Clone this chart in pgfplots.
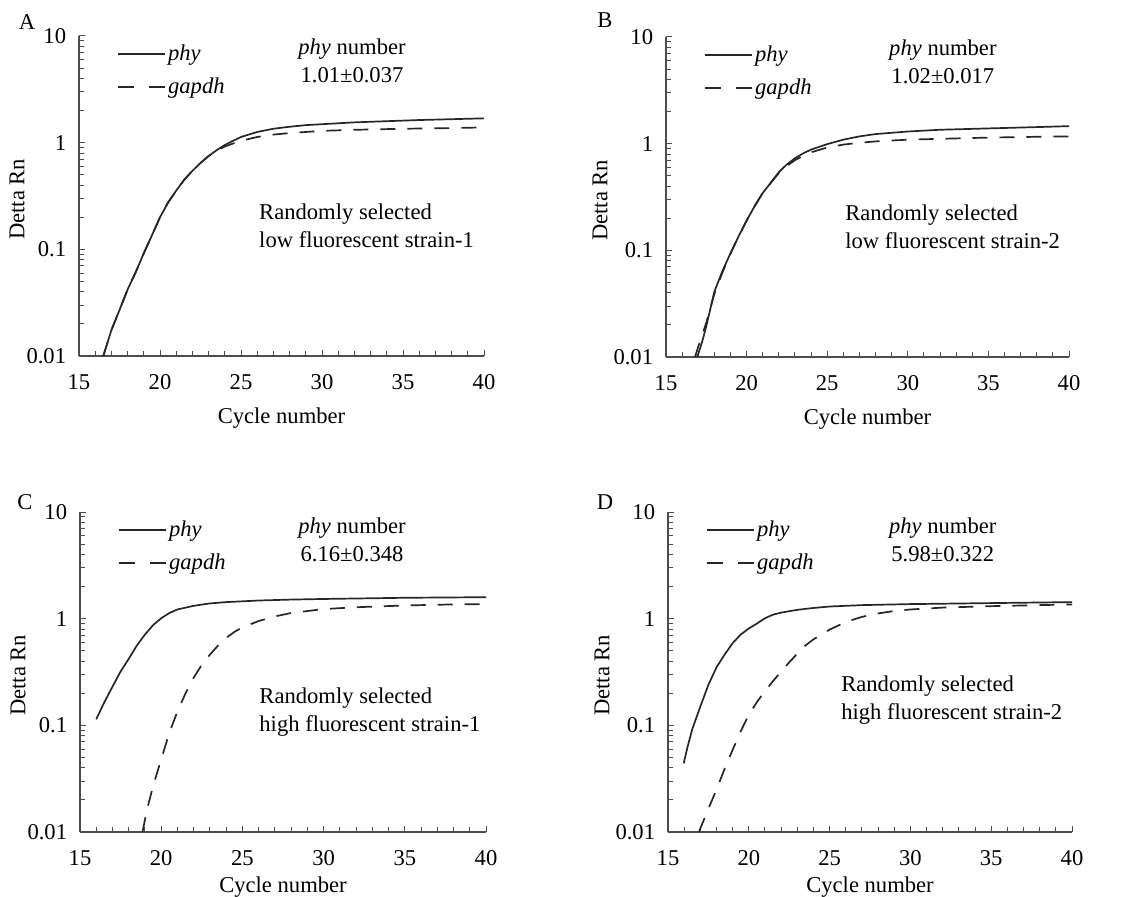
\documentclass[border=0pt]{standalone}
\usepackage{fontspec}
\setmainfont{Liberation Serif}
\usepackage{pgfplots}
\pgfplotsset{compat=1.18}
\tikzset{
  phyline/.style={black!85, line width=0.85pt},
  gapline/.style={black!85, line width=0.85pt, dash pattern=on 7.5pt off 6pt},
  legdash/.style={black!85, line width=0.85pt, dash pattern=on 8pt off 7.5pt},
  strain/.style={align=left, anchor=west, inner sep=0pt},
}
\pgfplotsset{
  mypanel/.style={
    scale only axis, height=160pt,
    xmin=15, xmax=40, ymin=0.01, ymax=10,
    axis x line=bottom, axis y line=left,
    axis line style={-, black!70, line width=0.6pt},
    xtick={15,20,...,40}, minor x tick num=4,
    ytick={0.01,0.1,1,10}, yticklabels={0.01,0.1,1,10},
    minor ytick={0.02,0.03,0.04,0.05,0.06,0.07,0.08,0.09,0.2,0.3,0.4,0.5,0.6,0.7,0.8,0.9,2,3,4,5,6,7,8,9},
    tick align=inside, tick style={black!70, line width=0.5pt},
    major tick length=3pt, minor tick length=2.5pt,
    /pgf/number format/assume math mode=true,
    xticklabel style={yshift=-5.5pt},
    yticklabel style={xshift=-2.5pt},
    xlabel={Cycle number}, ylabel={Detta Rn},
    xlabel style={at={(axis description cs:0.5,0)}, anchor=center, yshift=-31pt},
    ylabel style={at={(axis description cs:0,0.49)}, anchor=center, yshift=31pt},
    legend image code/.code={\draw[##1] (0pt,0pt) -- (23.5pt,0pt);},
    legend style={at={(axis description cs:0,1)}, anchor=north west, xshift=19pt, yshift=-3pt,
      draw=none, fill=none, inner sep=0pt, row sep=5pt, nodes={inner sep=1pt}},
    legend cell align=left,
  },
}
\begin{document}
\fontsize{11.3}{14}\selectfont
\begin{tikzpicture}
\useasboundingbox (0,0) rectangle (561pt,448pt);
% Panel A
\begin{axis}[mypanel, ymode=log, width=202.5pt, at={(39.5pt,270pt)}, anchor=south west]
\addlegendimage{phyline}\addlegendentry{\textit{phy}}
\addlegendimage{legdash}\addlegendentry{\textit{gapdh}}
\addplot[phyline, forget plot] table {
16.5 0.010
17 0.0175
17.5 0.027
18 0.042
18.5 0.061
19 0.092
19.5 0.135
20 0.20
20.5 0.275
21 0.355
21.5 0.45
22 0.545
22.5 0.645
23 0.75
23.5 0.85
24 0.95
24.5 1.04
25 1.13
26 1.26
27 1.35
28 1.41
29 1.46
30 1.49
32 1.55
34 1.59
36 1.63
38 1.66
40 1.69
};
\addplot[gapline, forget plot] table {
16.5 0.010
17 0.0175
17.5 0.027
18 0.042
18.5 0.061
19 0.092
19.5 0.135
20 0.20
20.5 0.275
21 0.355
21.5 0.45
22 0.545
22.5 0.645
23 0.75
23.5 0.84
24 0.92
24.5 0.98
25 1.04
26 1.13
27 1.19
28 1.23
30 1.29
32 1.32
35 1.35
38 1.37
40 1.39
};
\node[align=center] at (axis description cs:0.674,0.922) {\textit{phy} number\\1.01±0.037};
\node[strain] at (axis description cs:0.444,0.406) {Randomly selected\\low fluorescent strain-1};
\end{axis}
% Panel B
\begin{axis}[mypanel, ymode=log, width=201.5pt, at={(333pt,269.5pt)}, anchor=south west,
  ylabel style={yshift=2pt}]
\addlegendimage{phyline}\addlegendentry{\textit{phy}}
\addlegendimage{legdash}\addlegendentry{\textit{gapdh}}
\addplot[phyline, forget plot] table {
16.94 0.010
17.25 0.014
17.5 0.0195
18 0.041
18.5 0.064
19 0.094
19.5 0.135
20 0.19
20.5 0.26
21 0.345
21.5 0.43
22 0.54
22.5 0.64
23 0.73
23.5 0.81
24 0.88
25 0.99
26 1.09
27 1.17
28 1.23
30 1.30
32 1.35
35 1.39
38 1.43
40 1.46
};
\addplot[gapline, forget plot] table {
16.8 0.010
17 0.0125
17.5 0.021
18 0.039
18.5 0.062
19 0.093
19.5 0.135
20 0.19
20.5 0.26
21 0.345
21.5 0.43
22 0.53
22.5 0.62
23 0.70
23.5 0.77
24 0.83
25 0.92
26 0.98
27 1.02
28 1.05
30 1.09
32 1.11
35 1.14
38 1.16
40 1.17
};
\node[align=center] at (axis description cs:0.687,0.922) {\textit{phy} number\\1.02±0.017};
\node[strain] at (axis description cs:0.444,0.406) {Randomly selected\\low fluorescent strain-2};
\end{axis}
% Panel C
\begin{axis}[mypanel, ymode=log, width=203pt, at={(40pt,32pt)}, anchor=south west,
  xlabel style={yshift=3.5pt}]
\addlegendimage{phyline}\addlegendentry{\textit{phy}}
\addlegendimage{legdash}\addlegendentry{\textit{gapdh}}
\addplot[phyline, forget plot] table {
16.0 0.114
16.5 0.165
17 0.23
17.5 0.32
18 0.42
18.5 0.56
19 0.71
19.5 0.87
20 1.01
20.5 1.13
21 1.22
22 1.32
23 1.39
24 1.43
26 1.48
28 1.51
30 1.53
35 1.57
40 1.59
};
\addplot[gapline, forget plot] table {
18.85 0.010
19.1 0.0156
19.5 0.027
20 0.048
20.5 0.085
21 0.135
21.5 0.20
22 0.28
22.5 0.37
23 0.46
23.5 0.56
24 0.66
24.5 0.75
25 0.83
26 0.95
27 1.05
28 1.13
30 1.23
32 1.28
35 1.33
38 1.36
40 1.37
};
\node[align=center] at (axis description cs:0.67,0.912) {\textit{phy} number\\6.16±0.348};
\node[strain] at (axis description cs:0.441,0.375) {Randomly selected\\high fluorescent strain-1};
\end{axis}
% Panel D
\begin{axis}[mypanel, ymode=log, width=202pt, at={(334pt,32pt)}, anchor=south west,
  xlabel style={yshift=3.5pt}, ylabel style={yshift=2pt}]
\addlegendimage{phyline}\addlegendentry{\textit{phy}}
\addlegendimage{legdash}\addlegendentry{\textit{gapdh}}
\addplot[phyline, forget plot] table {
15.97 0.044
16.2 0.062
16.5 0.092
17 0.15
17.5 0.24
18 0.35
18.5 0.46
19 0.59
19.5 0.71
20 0.81
20.5 0.90
21 1.01
21.5 1.09
22 1.14
23 1.21
24 1.26
25 1.30
27 1.34
30 1.37
35 1.40
40 1.43
};
\addplot[gapline, forget plot] table {
16.92 0.010
17 0.0108
17.5 0.0165
18 0.025
18.5 0.039
19 0.059
19.5 0.088
20 0.126
20.5 0.165
21 0.21
21.5 0.26
22 0.32
22.5 0.39
23 0.47
23.5 0.56
24 0.64
25 0.79
26 0.93
27 1.04
28 1.12
29 1.18
30 1.22
32 1.27
35 1.31
38 1.34
40 1.36
};
\node[align=center] at (axis description cs:0.68,0.912) {\textit{phy} number\\5.98±0.322};
\node[strain] at (axis description cs:0.428,0.411) {Randomly selected\\high fluorescent strain-2};
\end{axis}
\node at (13.5pt,437pt) {A};
\node at (302.5pt,438pt) {B};
\node at (12.5pt,197pt) {C};
\node at (302.5pt,197pt) {D};
\end{tikzpicture}
\end{document}
